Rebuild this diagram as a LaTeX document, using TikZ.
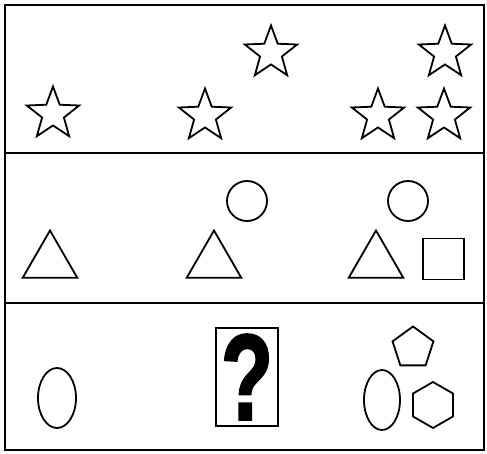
\documentclass[tikz,border=0pt]{standalone}
\usepackage{fontspec}
\newfontfamily\qfont{Liberation Sans}[BoldFeatures={FakeBold=2}]
\usetikzlibrary{shapes.geometric}
\begin{document}
\begin{tikzpicture}[x=1pt,y=-1pt,
  frame/.style={line width=2.2pt,draw=black},
  fig/.style={draw=black,line width=1.8pt,inner sep=0pt,outer sep=0pt},
  starfig/.style={fig,star,star points=5,star point ratio=2.4,minimum size=55pt},
  trifig/.style={fig,regular polygon,regular polygon sides=3,minimum size=63pt},
  circfig/.style={fig,circle,minimum size=40pt},
  ellfig/.style={fig,ellipse,minimum width=38pt,minimum height=60pt}]
\useasboundingbox (0,0) rectangle (487,454);
\fill[white] (0,0) rectangle (487,454);
% frames
\draw[frame] (5,5) rectangle (484,450);
\coordinate (l1) at (5,153); \coordinate (r1) at (484,153);
\coordinate (l2) at (5,303); \coordinate (r2) at (484,303);
\draw[frame] (l1) -- (r1);
\draw[frame] (l2) -- (r2);
% row 1: stars
\node[starfig] (s1) at (53,114) {};
\node[starfig] (s2) at (205,116) {};
\node[starfig] (s3) at (271,53) {};
\node[starfig] (s4) at (445,53) {};
\node[starfig] (s5) at (378,116) {};
\node[starfig] (s6) at (444,116) {};
% row 2
\node[trifig] (t1) at (50,262) {};
\node[trifig] (t2) at (214,262) {};
\node[trifig] (t3) at (376,262) {};
\node[circfig] (c1) at (247,201) {};
\node[circfig] (c2) at (408,201) {};
\node[fig,rectangle,minimum size=41pt] (q1) at (443.5,259) {};
% row 3
\node[ellfig] (e1) at (57,398) {};
\node[ellfig,minimum width=36pt] (e2) at (382,400) {};
\node[fig,rectangle,minimum width=62pt,minimum height=98pt] (box) at (247,377) {};
\node[inner sep=0pt,xscale=0.7,yscale=1] (qm) at (247,377) {\qfont\bfseries\fontsize{122}{122}\selectfont ?};
\node[fig,regular polygon,regular polygon sides=5,minimum size=43pt] (pent) at (413,348) {};
\node[fig,regular polygon,regular polygon sides=6,shape border rotate=30,minimum size=46pt] (hex) at (433,405) {};
\end{tikzpicture}
\end{document}
